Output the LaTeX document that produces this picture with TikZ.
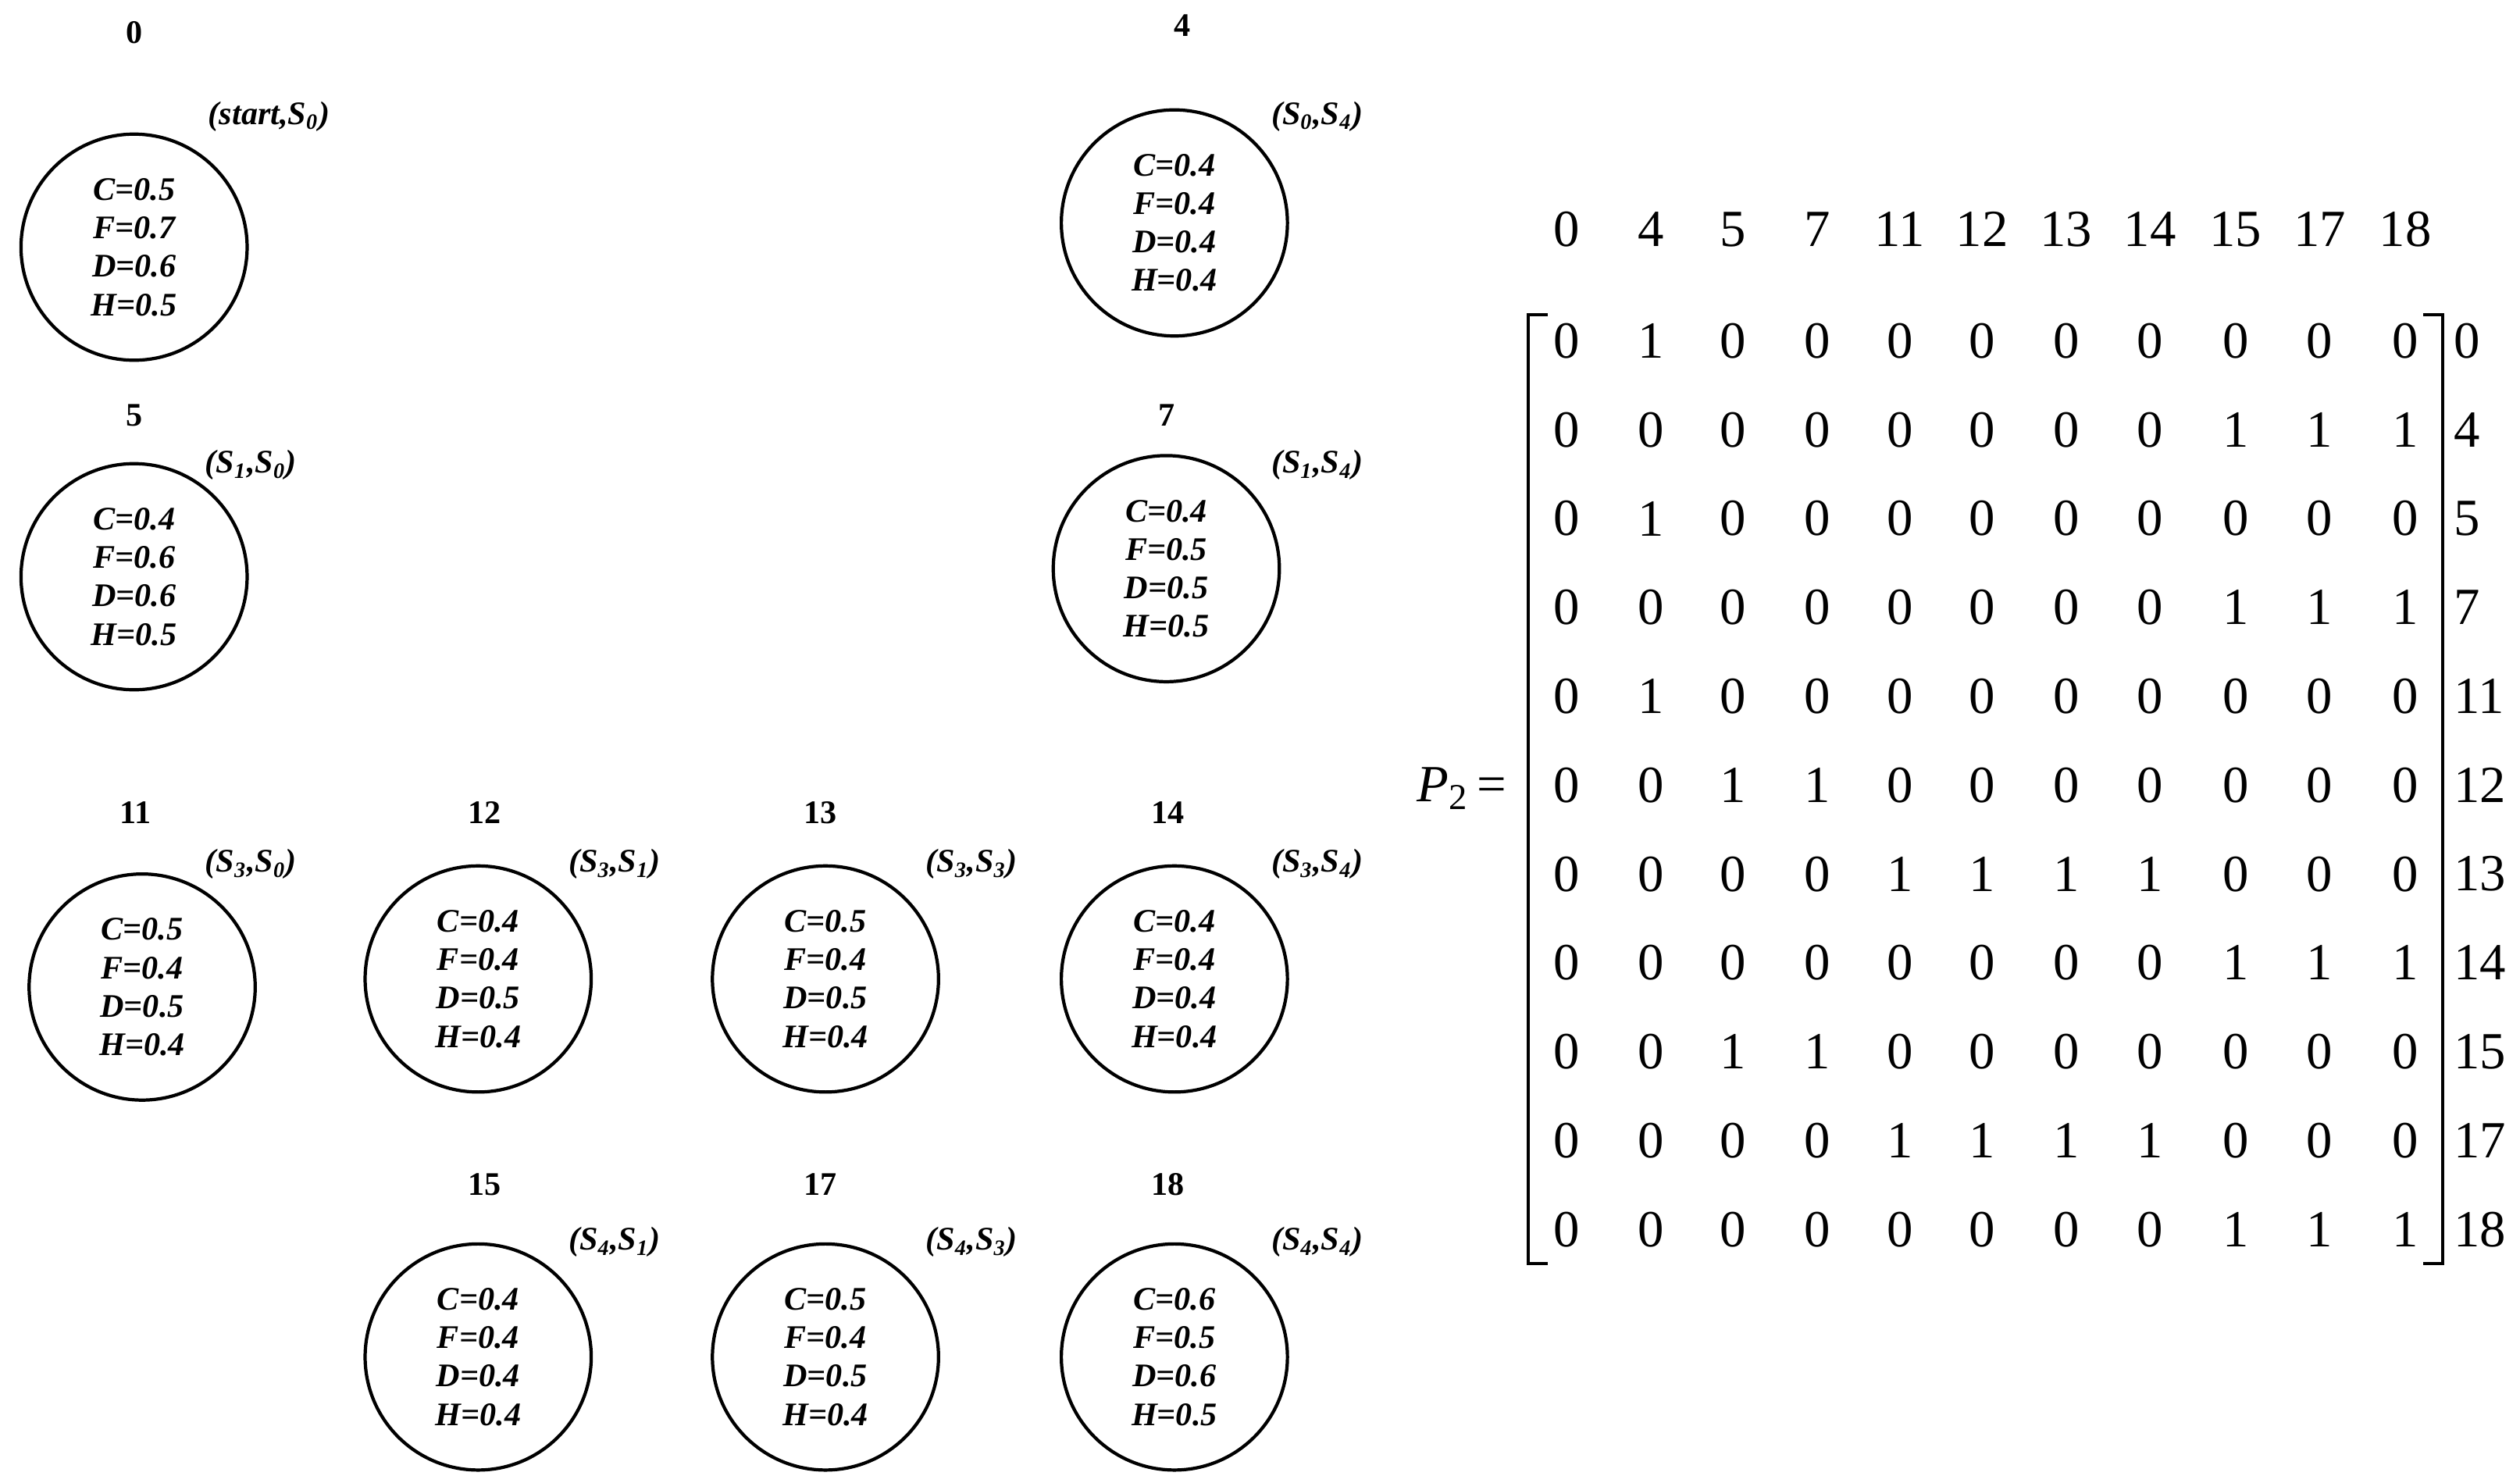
\documentclass[tikz,border=0pt]{standalone}
\usepackage{fontspec}
\setmainfont{Liberation Serif}
\newcommand{\mysb}[1]{\textsubscript{#1}}
\begin{document}
\begin{tikzpicture}[x=0.020686cm,y=-0.020686cm,
  st/.style={circle,draw,line width=1.2pt,minimum size=2.896cm,inner sep=0pt,align=center,font=\fontsize{12}{14}\selectfont\bfseries\itshape},
  num/.style={font=\fontsize{12}{14}\selectfont\bfseries},
  pr/.style={anchor=west,font=\fontsize{12}{14}\selectfont\bfseries\itshape},
  mx/.style={font=\fontsize{19}{22}\selectfont}]
\useasboundingbox (0,0) rectangle (1560,918);
% states: name/x/y/label/lx/ly/pair/px/py/C/F/D/H
\foreach \n/\x/\y/\lab/\lx/\ly/\pr/\px/\py/\c/\f/\d/\h in {
 s0/83/153/0/83/20/{(start,S\mysb{0})}/123/72/0.5/0.7/0.6/0.5,
 s4/727/138/4/732/16/{(S\mysb{0},S\mysb{4})}/781/72/0.4/0.4/0.4/0.4,
 s5/83/357/5/83/257/{(S\mysb{1},S\mysb{0})}/121/288/0.4/0.6/0.6/0.5,
 s7/722/352/7/722/257/{(S\mysb{1},S\mysb{4})}/781/288/0.4/0.5/0.5/0.5,
 s11/88/611/11/84/503/{(S\mysb{3},S\mysb{0})}/121/535/0.5/0.4/0.5/0.4,
 s12/296/606/12/300/503/{(S\mysb{3},S\mysb{1})}/346/535/0.4/0.4/0.5/0.4,
 s13/511/606/13/508/503/{(S\mysb{3},S\mysb{3})}/567/535/0.5/0.4/0.5/0.4,
 s14/727/606/14/723/503/{(S\mysb{3},S\mysb{4})}/781/535/0.4/0.4/0.4/0.4,
 s15/296/840/15/300/733/{(S\mysb{4},S\mysb{1})}/346/769/0.4/0.4/0.4/0.4,
 s17/511/840/17/508/733/{(S\mysb{4},S\mysb{3})}/567/769/0.5/0.4/0.5/0.4,
 s18/727/840/18/723/733/{(S\mysb{4},S\mysb{4})}/781/769/0.6/0.5/0.6/0.5}{
 \node[st] (\n) at (\x,\y) {C=\c\\F=\f\\D=\d\\H=\h};
 \node[num] (\n l) at (\lx,\ly) {\lab};
 \node[pr] (\n p) at (\px,\py) {\pr};
}
% matrix
\def\cols{970,1022,1073,1125,1176,1227,1279,1331,1384,1436,1489}
\foreach \t [count=\i] in {0,4,5,7,11,12,13,14,15,17,18}{
  \pgfmathparse{{\cols}[\i-1]}\let\cx\pgfmathresult
  \node[mx] (h\i) at (\cx,142) {\t};
}
\foreach \r/\lab [count=\j] in {
 {0,1,0,0,0,0,0,0,0,0,0}/0,
 {0,0,0,0,0,0,0,0,1,1,1}/4,
 {0,1,0,0,0,0,0,0,0,0,0}/5,
 {0,0,0,0,0,0,0,0,1,1,1}/7,
 {0,1,0,0,0,0,0,0,0,0,0}/11,
 {0,0,1,1,0,0,0,0,0,0,0}/12,
 {0,0,0,0,1,1,1,1,0,0,0}/13,
 {0,0,0,0,0,0,0,0,1,1,1}/14,
 {0,0,1,1,0,0,0,0,0,0,0}/15,
 {0,0,0,0,1,1,1,1,0,0,0}/17,
 {0,0,0,0,0,0,0,0,1,1,1}/18}{
  \pgfmathsetmacro\ry{211+55*(\j-1)}
  \foreach \v [count=\i] in \r {
    \pgfmathparse{{\cols}[\i-1]}\let\cx\pgfmathresult
    \node[mx] (m\j-\i) at (\cx,\ry) {\v};
  }
  \node[mx,anchor=west] (r\j) at (1513,\ry) {\lab};
}
\draw[line width=1.2pt] (958,195) -- (946,195) -- (946,782) -- (958,782);
\draw[line width=1.2pt] (1500,195) -- (1512,195) -- (1512,782) -- (1500,782);
\node[mx] (P) at (905,488) {\textit{P}\textsubscript{2}\,=};
\end{tikzpicture}
\end{document}
